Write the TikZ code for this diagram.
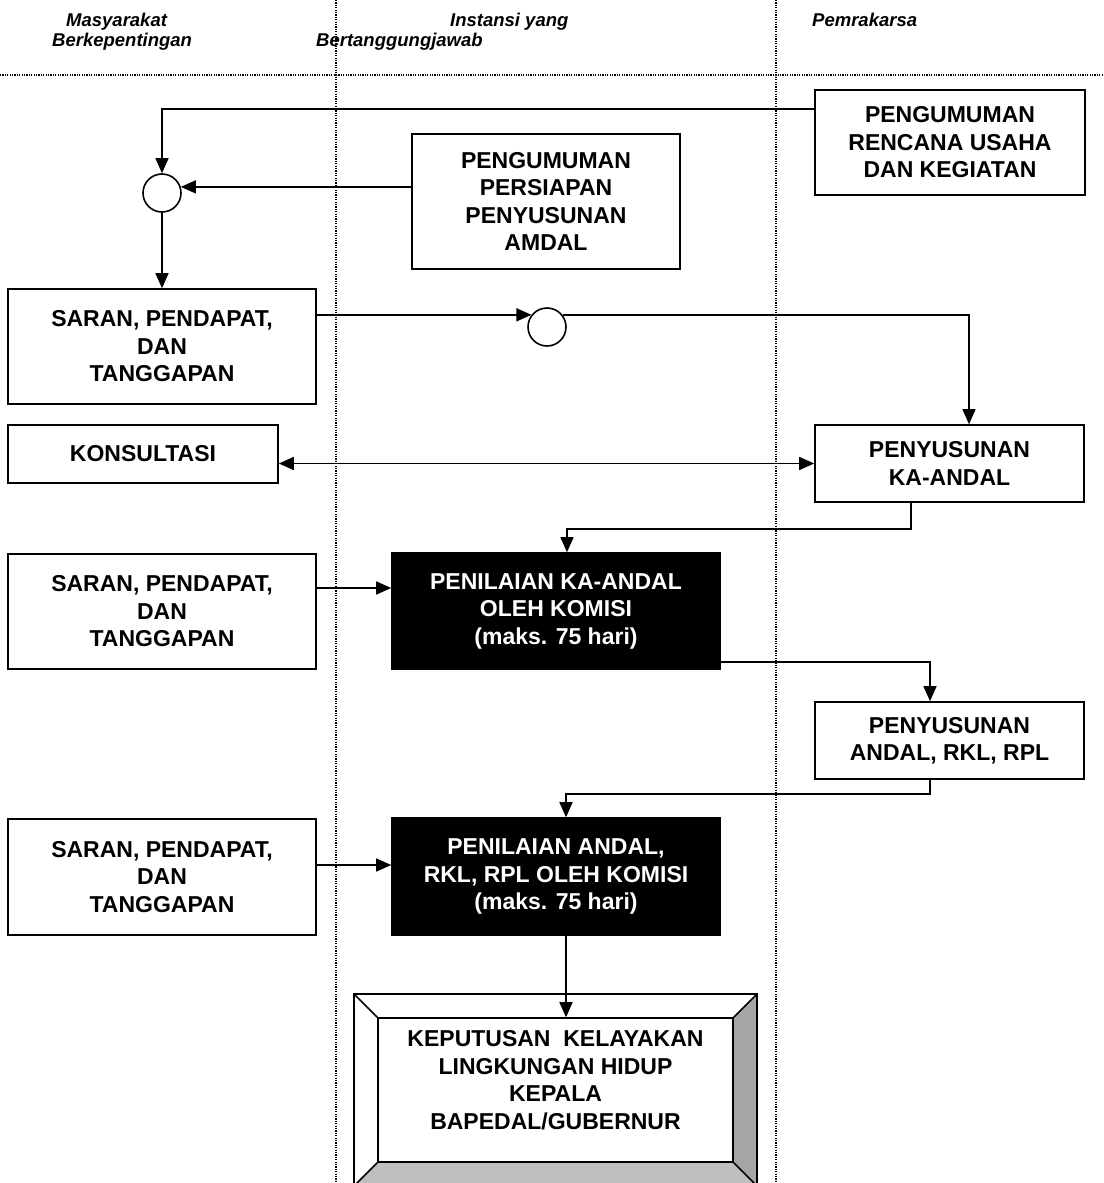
\documentclass[tikz,border=0pt]{standalone}
\usepackage{fontspec}
\setmainfont{Liberation Sans}
\usetikzlibrary{arrows.meta}
\begin{document}
\begin{tikzpicture}[x=1pt,y=-1pt,
  boxtext/.style={font=\bfseries\fontsize{23}{27.5}\selectfont, align=center},
  wbox/.style={boxtext, draw, line width=1.6pt, fill=white, inner sep=0pt},
  bbox/.style={boxtext, draw, line width=1.6pt, fill=black, text=white, inner sep=0pt},
  ring/.style={circle, draw, line width=1.6pt, minimum size=38pt, inner sep=0pt, fill=white},
  head/.style={font=\bfseries\itshape\fontsize{18.5}{22}\selectfont, anchor=base west, inner sep=0pt},
  arr/.style={line width=1.5pt, -{Triangle[length=15pt,width=13pt]}},
  dbl/.style={line width=1.5pt, {Triangle[length=15pt,width=13pt]}-{Triangle[length=15pt,width=13pt]}},
  lane/.style={line width=1.4pt, dash pattern=on 1.2pt off 1.2pt},
  bevel/.style={line width=1.6pt}
]
\useasboundingbox (0,0) rectangle (1103,1183);
\clip (0,0) rectangle (1103,1183);

% swimlane separators
\draw[lane] (0,75) -- (1103,75);
\draw[lane] (336,0) -- (336,1183);
\draw[lane] (776,0) -- (776,1183);

% headers
\node[head] (h1) at (66,26) {Masyarakat};
\node[head] (h2) at (52,46) {Berkepentingan};
\node[head] (h3) at (450,26) {Instansi yang};
\node[head] (h4) at (316,46) {Bertanggungjawab};
\node[head] (h5) at (812,26) {Pemrakarsa};

% boxes
\node[wbox, minimum width=270pt, minimum height=105pt] (pur) at (950,142.5) {PENGUMUMAN\\RENCANA USAHA\\DAN KEGIATAN};
\node[wbox, minimum width=268pt, minimum height=135pt] (pps) at (546,201.5) {PENGUMUMAN\\PERSIAPAN\\PENYUSUNAN\\AMDAL};
\node[ring] (c1) at (162,193) {};
\node[wbox, minimum width=308pt, minimum height=115pt] (spt1) at (162,346.5) {SARAN, PENDAPAT,\\DAN\\TANGGAPAN};
\node[ring] (c2) at (547,327) {};
\node[wbox, minimum width=270pt, minimum height=58pt] (kons) at (143,454) {KONSULTASI};
\node[wbox, minimum width=269pt, minimum height=77pt] (penyka) at (949.5,463.5) {PENYUSUNAN\\KA-ANDAL};
\node[wbox, minimum width=308pt, minimum height=115pt] (spt2) at (162,611.5) {SARAN, PENDAPAT,\\DAN\\TANGGAPAN};
\node[bbox, minimum width=328pt, minimum height=116pt] (pka) at (556,611) {PENILAIAN KA-ANDAL\\OLEH KOMISI\\(maks. 75 hari)};
\node[wbox, minimum width=269pt, minimum height=77pt] (pand) at (949.5,740.5) {PENYUSUNAN\\ANDAL, RKL, RPL};
\node[wbox, minimum width=308pt, minimum height=116pt] (spt3) at (162,877) {SARAN, PENDAPAT,\\DAN\\TANGGAPAN};
\node[bbox, minimum width=328pt, minimum height=117pt] (pa) at (556,876.5) {PENILAIAN ANDAL,\\RKL, RPL OLEH KOMISI\\(maks. 75 hari)};

% bevelled decision box
\fill[white] (354,994) rectangle (757,1186);
\fill[gray!70] (757,994) -- (757,1186) -- (733,1162) -- (733,1018) -- cycle;
\fill[gray!50] (354,1186) -- (757,1186) -- (733,1162) -- (378,1162) -- cycle;
\node[draw, line width=1.6pt, minimum width=355pt, minimum height=144pt, inner sep=0pt] (kep) at (555.5,1090) {};
\draw[bevel] (354,994) rectangle (757,1186);
\draw[bevel] (354,994) -- (kep.north west);
\draw[bevel] (757,994) -- (kep.north east);
\draw[bevel] (354,1186) -- (kep.south west);
\draw[bevel] (757,1186) -- (kep.south east);
\node[boxtext] (keptext) at (555.5,1080) {KEPUTUSAN~~KELAYAKAN\\LINGKUNGAN HIDUP\\KEPALA\\BAPEDAL/GUBERNUR};

% connectors
\coordinate (p1) at ([yshift=33.5pt]pur.west);
\draw[arr] (p1) -| (c1.north);
\draw[arr] (pps.west |- c1.18) -- (c1.18);
\draw[arr] (c1.south) -- (spt1.north);
\draw[arr] (spt1.east |- c2.142) -- (c2.142);
\coordinate (k1) at ([xshift=19.5pt]penyka.north);
\draw[arr] (c2.38) -| (k1);
\draw[dbl] (kons.east |- penyka.west) -- (penyka.west);
\coordinate (k2) at ([xshift=-38.5pt]penyka.south);
\coordinate (k3) at ([xshift=11pt]pka.north);
\draw[arr] (k2) -- ++(0,26) -| (k3);
\coordinate (s2) at ([yshift=23.5pt]spt2.east);
\draw[arr] (s2) -- (s2 -| pka.west);
\coordinate (k4) at ([yshift=-51pt]pka.east);
\coordinate (k5) at ([xshift=-19.5pt]pand.north);
\draw[arr] (k4) -| (k5);
\coordinate (k6) at ([xshift=-19.5pt]pand.south);
\coordinate (k7) at ([xshift=10pt]pa.north);
\draw[arr] (k6) -- ++(0,14) -| (k7);
\coordinate (s3) at ([yshift=12pt]spt3.east);
\draw[arr] (s3) -- (s3 -| pa.west);
\coordinate (k8) at ([xshift=10pt]pa.south);
\draw[arr] (k8) -- (k8 |- kep.north);
\end{tikzpicture}
\end{document}
